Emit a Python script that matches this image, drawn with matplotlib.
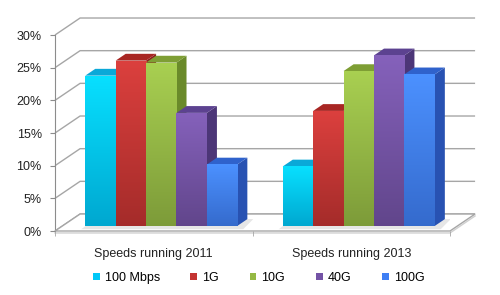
import matplotlib
matplotlib.use("Agg")
import matplotlib.pyplot as plt
import numpy as np
from matplotlib.patches import Polygon, Patch
from matplotlib.colors import to_rgb

categories = ["Speeds running 2011", "Speeds running 2013"]
series = ["100 Mbps", "1G", "10G", "40G", "100G"]
values_2011 = [23, 25.3, 25, 17.3, 9.4]
values_2013 = [9.1, 17.6, 23.7, 26.1, 23.2]
values = [values_2011, values_2013]
yticks = [0, 5, 10, 15, 20, 25, 30]
ytick_labels = ["0%", "5%", "10%", "15%", "20%", "25%", "30%"]

front_colors = ["#00C8F8", "#C43432", "#95B944", "#7453A6", "#3F7FF4"]
side_colors = ["#0093BF", "#8A1F1D", "#6A8A2A", "#4C3677", "#2852B2"]
top_colors = ["#0AA8D8", "#A82623", "#7E9E34", "#5C4290", "#2F62CC"]

plt.rcParams["font.family"] = ["Liberation Sans", "DejaVu Sans"]
fig = plt.figure(figsize=(5.0, 2.95), dpi=100)
ax = fig.add_axes([55/500, (295-231)/295, 395/500, 196/295])
ax.set_xlim(0, 2)
ax.set_ylim(0, 30)

DX, DY = 0.127, 2.6
grid_c = "#A6A6A6"

# walls: gridlines on left wall and back wall
for v in yticks:
    ax.plot([0, DX, 2 + DX], [v, v + DY, v + DY], color=grid_c, lw=1.0,
            clip_on=False, zorder=1, solid_capstyle="butt")
# floor
floor = Polygon([(0, 0), (2, 0), (2 + DX, DY), (DX, DY)], closed=True,
                facecolor="white", edgecolor=grid_c, lw=1.0, clip_on=False, zorder=1.5)
ax.add_patch(floor)
ax.plot([0, 2, 2 + DX], [-0.3, -0.3, DY - 0.3], color="#D0D0D0", lw=1.0,
        clip_on=False, zorder=1.4)

# bars
w = 0.154
d0, d1 = 0.3, 0.4
z = 3
for ci, vals in enumerate(values):
    start = ci + (1 - 5 * w) / 2
    # soft shadow
    sx0 = start + d0 * DX - 0.02
    sx1 = start + 5 * w + (d0 + d1) * DX + 0.03
    sh = Polygon([(sx0, d0 * DY - 0.5), (start + 5 * w + d0 * DX + 0.03, d0 * DY - 0.5),
                  (sx1, (d0 + d1) * DY), (start + (d0 + d1) * DX, (d0 + d1) * DY)],
                 closed=True, facecolor="#E6E6E6", edgecolor="none", zorder=2)
    ax.add_patch(sh)
    for j, v in enumerate(vals):
        L = start + j * w + d0 * DX
        R = L + w
        b = d0 * DY
        bar = ax.bar(L, v, width=w, bottom=b, align="edge",
                     color=front_colors[j], edgecolor="none", zorder=z)[0]
        # vertical gradient on front face
        c = np.array(to_rgb(front_colors[j]))
        top = np.clip(c * 1.08 + 0.03, 0, 1)
        bot = c * 0.84
        t = np.linspace(0, 1, 64)[:, None]
        grad = (top[None, :] * (1 - t) + bot[None, :] * t)[:, None, :]
        im = ax.imshow(grad, extent=(L, R, b, b + v), aspect="auto",
                       origin="upper", zorder=z + 0.1, interpolation="bilinear")
        im.set_clip_path(bar)
        side = Polygon([(R, b), (R + d1 * DX, b + d1 * DY), (R + d1 * DX, b + v + d1 * DY), (R, b + v)],
                       closed=True, facecolor=side_colors[j], edgecolor="none", zorder=z - 0.2)
        topf = Polygon([(L, b + v), (R, b + v), (R + d1 * DX, b + v + d1 * DY), (L + d1 * DX, b + v + d1 * DY)],
                       closed=True, facecolor=top_colors[j], edgecolor="none", zorder=z - 0.2)
        ax.add_patch(side)
        ax.add_patch(topf)
        z += 1

ax.set_xlim(0, 2)
ax.set_ylim(0, 30)

for s in ["top", "right", "bottom"]:
    ax.spines[s].set_visible(False)
ax.spines["left"].set_color("#8C8C8C")
ax.spines["left"].set_zorder(1)

ax.set_yticks(yticks)
ax.set_yticklabels(ytick_labels, fontsize=9, color="#222222")
ax.tick_params(axis="y", length=3.5, color="#8C8C8C", pad=6)
ax.set_xticks([0.5, 1.5])
ax.set_xticklabels(categories, fontsize=9, color="#222222")
ax.tick_params(axis="x", length=0, pad=12)
ax.set_xticks([0, 1, 2], minor=True)
ax.tick_params(axis="x", which="minor", length=3.5, color="#A6A6A6", direction="out")

handles = [Patch(facecolor=c, edgecolor="none") for c in front_colors]
fig.legend(handles, series, loc="center", bbox_to_anchor=(0.517, 1 - 278/295), ncol=5,
           frameon=False, fontsize=9, handlelength=0.55, handleheight=0.55,
           handletextpad=0.4, columnspacing=2.45)

fig.savefig("out.png", dpi=100, facecolor="white")
